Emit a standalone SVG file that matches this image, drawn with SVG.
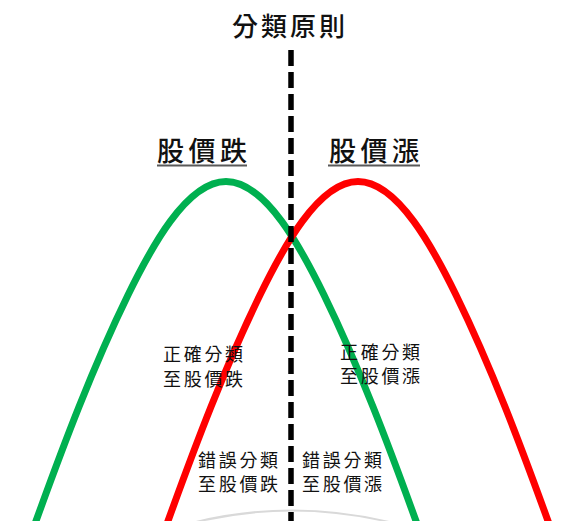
<svg xmlns="http://www.w3.org/2000/svg" width="566" height="521" viewBox="0 0 566 521">
<style>
.t{font-family:"Noto Sans CJK TC","Noto Sans CJK SC",sans-serif;fill:#111}
.title{font-size:26px;letter-spacing:3px;font-weight:500}
.head{font-size:27px;letter-spacing:4.5px;font-weight:500}
.lab{font-size:18px;letter-spacing:2.7px}
.curve{fill:none;stroke-width:7}
</style>
<rect width="566" height="521" fill="#ffffff"/>
<g id="arc">
<path d="M188,524 Q292,497 397,524" fill="none" stroke="#d9d9d9" stroke-width="2"/>
</g>
<g id="connectors">
<path id="green-curve" class="curve" stroke="#00b050" d="M32.7,530 L36,521 C63.2,445.8 92.8,367 128,295 C150,250 186,181.5 226,181.5 C266,181.5 302,250 324,295 C359.2,367 388.8,445.8 416,521 L419.3,530"/>
<path id="red-curve" class="curve" stroke="#ff0000" d="M164.7,530 L168,521 C195.2,445.8 224.8,367 260,295 C282,250 318,181.5 358,181.5 C398,181.5 434,250 456,295 C491.2,367 520.8,445.8 548,521 L551.3,530"/>
<line id="divider" x1="291" y1="50" x2="291" y2="530" stroke="#000" stroke-width="5.5" stroke-dasharray="16 6"/>
</g>
<g id="title"><text class="t title" x="232" y="36">分類原則</text></g>
<g id="head-down">
<text class="t head" x="157" y="161">股價跌</text>
<line x1="157" y1="165.5" x2="247" y2="165.5" stroke="#595959" stroke-width="2"/>
</g>
<g id="head-up">
<text class="t head" x="329" y="161">股價漲</text>
<line x1="328" y1="165.5" x2="420" y2="165.5" stroke="#595959" stroke-width="2"/>
</g>
<g id="correct-down">
<text class="t lab" x="163" y="361">正確分類</text>
<text class="t lab" x="163" y="386">至股價跌</text>
</g>
<g id="correct-up">
<text class="t lab" x="340" y="359">正確分類</text>
<text class="t lab" x="340" y="383">至股價漲</text>
</g>
<g id="wrong-down">
<text class="t lab" x="198" y="467">錯誤分類</text>
<text class="t lab" x="198" y="491">至股價跌</text>
</g>
<g id="wrong-up">
<text class="t lab" x="302" y="467">錯誤分類</text>
<text class="t lab" x="302" y="491">至股價漲</text>
</g>
</svg>
